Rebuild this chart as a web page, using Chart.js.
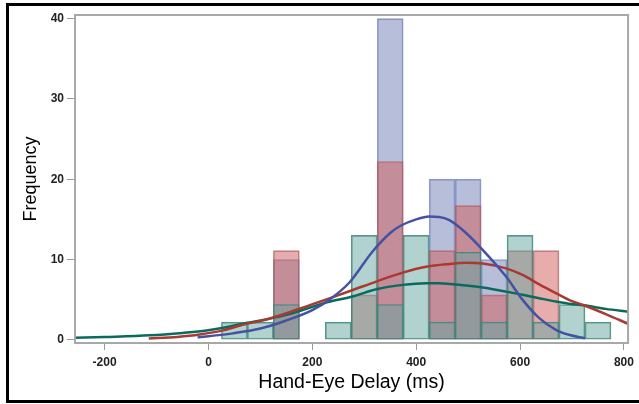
<!DOCTYPE html>
<html>
<head>
<meta charset="utf-8">
<script src="https://cdn.jsdelivr.net/npm/chart.js@4"></script>
<style>
  html, body { margin: 0; padding: 0; background: #fff; }
  #wrap { width: 639px; height: 404px; position: relative; }
</style>
</head>
<body>
<div id="wrap"><canvas id="delayChart" width="639" height="404"></canvas></div>
<script>
// histogram bins (bin centres, ms) and percent per group
const binCenters = [50, 100, 150, 200, 250, 300, 350, 400, 450, 500, 550, 600, 650, 700, 750];
const bluePct  = [null, null, 10,   null, null, null, 40,   null, 20,   20,   10,  null, null, null, null];
const redPct   = [null, null, 11.1, null, null, 5.6,  22.2, null, 11.1, 16.7, 5.6, 11.1, 11.1, null, null];
const greenPct = [2.2,  2.2,  4.4,  null, 2.2,  13.0, 4.4,  13.0, 2.2,  10.9, 2.2, 13.0, 2.2,  4.4,  2.2];

// density curves read along the x axis
const blueCurveX = [-21, 0, 47, 100, 150, 200, 233, 271, 316, 350, 370, 400, 425, 444, 464, 496, 528, 573, 605, 637, 669, 694, 725];
const blueCurveY = [0.3, 0.45, 0.8, 1.4, 2.4, 3.7, 5.0, 7.1, 11.0, 13.3, 14.2, 15.0, 15.35, 15.3, 14.9, 13.3, 11.2, 7.87, 4.97, 2.7, 1.24, 0.62, 0.2];
const redCurveX = [-115, -60, -17, 30, 66, 110, 150, 190, 230, 278, 323, 374, 419, 464, 496, 528, 573, 605, 637, 669, 694, 723, 765, 808];
const redCurveY = [0.15, 0.35, 0.65, 1.2, 1.87, 2.5, 3.3, 4.2, 5.1, 6.2, 7.25, 8.37, 9.1, 9.45, 9.6, 9.5, 8.9, 8.08, 6.9, 5.8, 4.97, 4.3, 3.2, 2.0];
const greenCurveX = [-257, -200, -113, -50, -4, 66, 150, 230, 278, 323, 374, 419, 444, 496, 528, 573, 605, 637, 669, 694, 723, 765, 808];
const greenCurveY = [0.25, 0.35, 0.55, 0.85, 1.15, 2.0, 3.1, 4.7, 5.4, 6.3, 6.84, 7.05, 7.05, 6.75, 6.5, 6.0, 5.6, 5.18, 4.77, 4.5, 4.3, 3.85, 3.5];

const xTicks = [-200, 0, 200, 400, 600, 800];
const yTicks = [0, 10, 20, 30, 40];

function bars(values) {
    return binCenters.map((x, i) => ({ x: x, y: values[i] })).filter(p => p.y !== null);
}
function curve(xs, ys) {
    return xs.map((x, i) => ({ x: x, y: ys[i] }));
}

// white page, black outer frame and grey frame around the plot
const framePlugin = {
    id: 'frame',
    beforeDraw(chart) {
        const ctx = chart.ctx;
        ctx.save();
        ctx.fillStyle = '#fff';
        ctx.fillRect(0, 0, chart.width, chart.height);
        ctx.restore();
    },
    afterDraw(chart) {
        const ctx = chart.ctx;
        const a = chart.chartArea;
        ctx.save();
        ctx.strokeStyle = '#a8a8a8';
        ctx.lineWidth = 2;
        ctx.strokeRect(a.left, a.top, a.right - a.left, a.bottom - a.top);
        ctx.strokeStyle = '#000';
        ctx.lineWidth = 3;
        ctx.beginPath();
        ctx.moveTo(642, 4.5);
        ctx.lineTo(7.5, 4.5);
        ctx.lineTo(7.5, 401.5);
        ctx.lineTo(642, 401.5);
        ctx.stroke();
        ctx.restore();
    }
};

const barStyle = {
    type: 'bar',
    borderWidth: 1,
    borderSkipped: false,
    grouped: false,
    categoryPercentage: 1.0,
    barPercentage: 1.0
};
const lineStyle = {
    type: 'line',
    borderWidth: 2.5,
    pointRadius: 0,
    fill: false,
    cubicInterpolationMode: 'monotone',
    order: 0
};

new Chart(document.getElementById('delayChart').getContext('2d'), {
    type: 'bar',
    data: {
        datasets: [
            Object.assign({}, lineStyle, { label: 'Blue fit',  data: curve(blueCurveX, blueCurveY),  borderColor: '#4552a3' }),
            Object.assign({}, lineStyle, { label: 'Red fit',   data: curve(redCurveX, redCurveY),    borderColor: '#a83a30' }),
            Object.assign({}, lineStyle, { label: 'Green fit', data: curve(greenCurveX, greenCurveY), borderColor: '#0b6a5e' }),
            Object.assign({}, barStyle, { label: 'Green', order: 1, data: bars(greenPct),
                backgroundColor: 'rgba(102, 165, 160, 0.5)', borderColor: 'rgba(60, 130, 115, 0.85)' }),
            Object.assign({}, barStyle, { label: 'Red', order: 2, data: bars(redPct),
                backgroundColor: 'rgba(208, 91, 91, 0.5)', borderColor: 'rgba(170, 90, 95, 0.7)' }),
            Object.assign({}, barStyle, { label: 'Blue', order: 3, data: bars(bluePct),
                backgroundColor: 'rgba(111, 126, 179, 0.5)', borderColor: 'rgba(111, 126, 190, 0.75)' })
        ]
    },
    options: {
        responsive: false,
        animation: false,
        events: [],
        layout: { padding: { top: 15, right: 10, bottom: 0, left: 0 } },
        plugins: {
            legend: { display: false },
            title: { display: false },
            tooltip: { enabled: false }
        },
        scales: {
            x: {
                type: 'linear',
                min: -257,
                max: 808,
                offset: false,
                afterBuildTicks: (axis) => { axis.ticks = xTicks.map(v => ({ value: v })); },
                afterFit: (axis) => { axis.height = 61; },
                grid: { display: true, offset: false, drawOnChartArea: false, drawTicks: true, tickLength: 7, color: '#999', lineWidth: 1 },
                border: { display: false },
                ticks: { color: '#222', font: { family: 'Liberation Sans', size: 12, weight: 'bold' }, padding: 5, maxRotation: 0 },
                title: {
                    display: true,
                    text: 'Hand-Eye Delay (ms)',
                    color: '#000',
                    font: { family: 'Liberation Sans', size: 19.5 },
                    padding: { top: 0, bottom: 10 }
                }
            },
            y: {
                min: -0.4,
                max: 40.45,
                afterBuildTicks: (axis) => { axis.ticks = yTicks.map(v => ({ value: v })); },
                afterFit: (axis) => { axis.width = 75; },
                grid: { display: true, drawOnChartArea: false, drawTicks: true, tickLength: 8, color: '#999', lineWidth: 1 },
                border: { display: false },
                ticks: { color: '#222', font: { family: 'Liberation Sans', size: 12, weight: 'bold' }, padding: 3 },
                title: {
                    display: true,
                    text: 'Frequency',
                    color: '#000',
                    font: { family: 'Liberation Sans', size: 18 },
                    padding: { top: 20, bottom: 0 }
                }
            }
        }
    },
    plugins: [framePlugin]
});
</script>
</body>
</html>
